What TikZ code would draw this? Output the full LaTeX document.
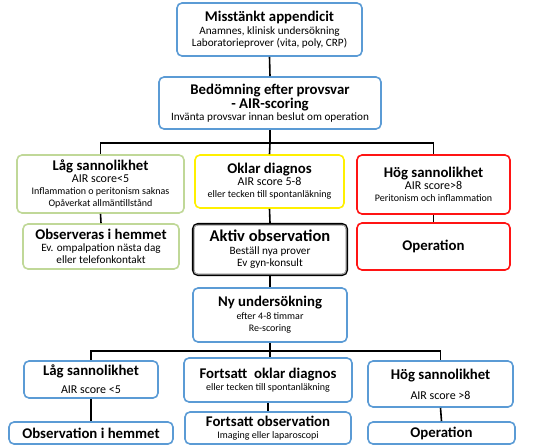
\documentclass[tikz,border=0pt]{standalone}
\usepackage{fontspec}
\setmainfont{Carlito}
\definecolor{bboxc}{RGB}{91,155,213}
\definecolor{gboxc}{RGB}{192,216,152}
\definecolor{yboxc}{RGB}{255,240,0}
\definecolor{rboxc}{RGB}{255,20,20}
\newcommand{\fT}{\fontsize{14.8}{15.5}\selectfont\bfseries}
\newcommand{\fB}{\fontsize{16.5}{17.5}\selectfont\bfseries}
\newcommand{\fM}{\fontsize{12}{12.5}\selectfont}
\newcommand{\fS}{\fontsize{11.2}{12}\selectfont}
\newcommand{\fX}{\fontsize{10}{10.8}\selectfont}
\begin{document}
\begin{tikzpicture}[x=1pt,y=-1pt,
  box/.style={draw=bboxc, line width=1.6pt, rounded corners=5pt, align=center, inner sep=0pt, fill=white},
  gbox/.style={box, draw=gboxc},
  ybox/.style={box, draw=yboxc},
  rbox/.style={box, draw=rboxc},
  kbox/.style={box, draw=black, line width=2.2pt},
  conn/.style={draw=black, line width=1.6pt}]
\useasboundingbox (0,0) rectangle (546,447);
\node[box, minimum width=185, minimum height=53] (A) at (269.5,29.5)
  {{\fT Misstänkt appendicit}\\[1pt]{\fS Anamnes, klinisk undersökning}\\{\fS Laboratorieprover (vita, poly, CRP)}};
\node[box, minimum width=222, minimum height=52] (B) at (270,103)
  {{\fT Bedömning efter provsvar}\\{\fT - AIR-scoring}\\{\fS Invänta provsvar innan beslut om operation}};
\node[gbox, minimum width=167, minimum height=58] (L1) at (100.5,184)
  {{\fT Låg sannolikhet}\\{\fM AIR score<5}\\{\fX Inflammation o peritonism saknas}\\{\fX Opåverkat allmäntillstånd}};
\node[ybox, minimum width=149, minimum height=53] (M1) at (269.5,181.5)
  {{\fT Oklar diagnos}\\{\fM AIR score 5-8}\\{\fX eller tecken till spontanläkning}};
\node[rbox, minimum width=153, minimum height=59] (R1) at (433.5,184.5)
  {{\fT Hög sannolikhet}\\{\fM AIR score>8}\\{\fX Peritonism och inflammation}};
\node[gbox, minimum width=156, minimum height=45] (L2) at (101,246.5)
  {{\fT Observeras i hemmet}\\{\fS Ev. ompalpation nästa dag}\\{\fS eller telefonkontakt}};
\node[kbox, minimum width=154, minimum height=51] (M2) at (270,249.5)
  {{\fB Aktiv observation}\\[1pt]{\fS Beställ nya prover}\\{\fS Ev gyn-konsult}};
\draw[gray!60, line width=1pt, rounded corners=3.5pt] ([shift={(2.1,2.1)}]M2.north west) rectangle ([shift={(-2.1,-2.1)}]M2.south east);
\node[rbox, minimum width=153, minimum height=47] (R2) at (433.5,246.5)
  {{\fT Operation}};
\node[box, minimum width=154, minimum height=54] (N) at (270,315)
  {{\fT Ny undersökning}\\[1pt]{\fX efter 4-8 timmar}\\{\fX Re-scoring}};
\node[box, minimum width=134, minimum height=37] (L3) at (91,379.5)
  {{\fT Låg sannolikhet}\\[6pt]{\fM AIR score <5}};
\node[box, minimum width=168, minimum height=44] (M3) at (268,380)
  {{\fT Fortsatt\ \ oklar diagnos}\\{\fX eller tecken till spontanläkning}};
\node[box, minimum width=145, minimum height=46] (R3) at (440.5,384)
  {{\fT Hög sannolikhet}\\[8pt]{\fM AIR score >8}};
\node[box, minimum width=164, minimum height=22] (L4) at (91,433)
  {{\fT Observation i hemmet}};
\node[box, minimum width=166, minimum height=32] (M4) at (268,428)
  {{\fT Fortsatt observation}\\{\fX Imaging eller laparoscopi}};
\node[box, minimum width=147, minimum height=22] (R4) at (441.5,433)
  {{\fT Operation}};
\coordinate (j1) at (270,143);
\coordinate (j2) at (270,351);
\draw[conn] (A.south) -- (B.north);
\draw[conn] (B.south) -- (j1);
\draw[conn] (j1) -| (L1.north);
\draw[conn] (j1) -- (M1.north);
\draw[conn] (j1) -| (R1.north);
\draw[conn] (L1.south) -- (L2.north);
\draw[conn] (M1.south) -- (M2.north);
\draw[conn] (R1.south) -- (R2.north);
\draw[conn] (M2.south) -- (N.north);
\draw[conn] (N.south) -- (j2);
\draw[conn] (j2) -| (L3.north);
\draw[conn] (j2) -- (j2 |- M3.north);
\draw[conn] (j2) -| (R3.north);
\draw[conn] (L3.south) -- (L4.north);
\draw[conn] (M3.south) -- (M4.north);
\draw[conn] (R3.south) -- (R4.north);
\end{tikzpicture}
\end{document}
